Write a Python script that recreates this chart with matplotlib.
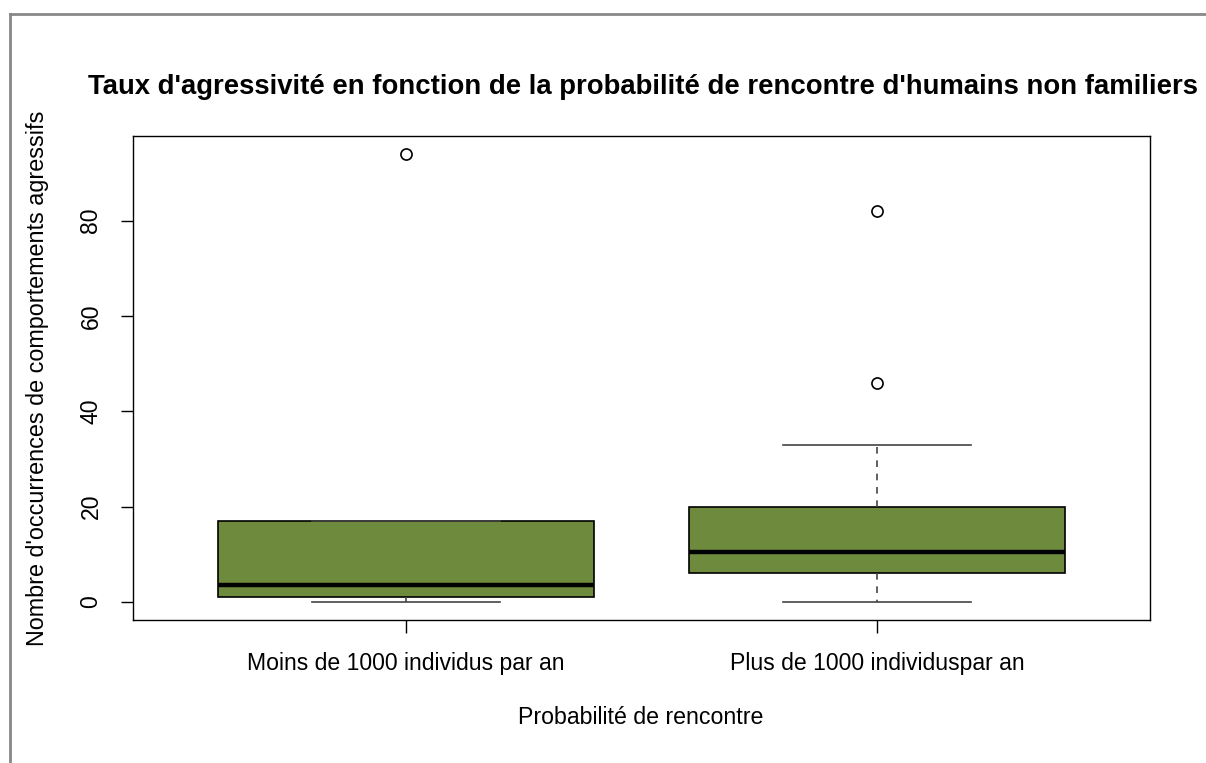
import matplotlib
matplotlib.use('Agg')
import matplotlib.pyplot as plt
from matplotlib.lines import Line2D

plt.rcParams['font.family'] = ['Liberation Sans', 'DejaVu Sans']

# valeurs
groupes = ['Moins de 1000 individus par an', 'Plus de 1000 individuspar an']
bas = [0, 0]
q1 = [1, 6]
mediane = [3.5, 10.5]
q3 = [17, 20]
haut = [17, 33]
extremes = [[94], [46, 82]]
yticks = [0, 20, 40, 60, 80]

stats = []
for i in range(len(groupes)):
    stats.append(dict(whislo=bas[i], q1=q1[i], med=mediane[i], q3=q3[i],
                      whishi=haut[i], fliers=extremes[i], label=groupes[i]))

W, H = 1206, 763
fig = plt.figure(figsize=(W / 100, H / 100), dpi=100)
ax = fig.add_axes([133 / W, 1 - 620 / H, 1017 / W, 484 / H])

ax.bxp(stats, positions=[1, 2], widths=0.8, capwidths=0.4, patch_artist=True,
       boxprops=dict(facecolor='#6E8B3D', edgecolor='black', linewidth=1.2),
       medianprops=dict(color='black', linewidth=3.2),
       whiskerprops=dict(color='#444444', linewidth=1.2, linestyle=(0, (4, 4))),
       capprops=dict(color='#444444', linewidth=1.2),
       flierprops=dict(marker='o', markerfacecolor='none', markeredgecolor='black',
                       markersize=8, markeredgewidth=1.2))

ax.set_xlim(0.42, 2.58)
ax.set_ylim(-3.76, 97.76)
ax.set_yticks(yticks)
ax.set_yticklabels([str(v) for v in yticks], rotation=90, va='center')
ax.tick_params(axis='both', direction='out', length=9, width=1, labelsize=16.6)
ax.tick_params(axis='x', pad=14)
ax.tick_params(axis='y', pad=13)
for s in ax.spines.values():
    s.set_linewidth(1)

fig.text(643 / W, 1 - 87 / H,
         "Taux d'agressivité en fonction de la probabilité de rencontre d'humains non familiers",
         ha='center', va='center', fontsize=19.8, fontweight='bold')
fig.text(38 / W, 1 - 378 / H, "Nombre d'occurrences de comportements agressifs",
         ha='center', va='center', rotation=90, fontsize=16.8)
fig.text(641 / W, 1 - 718 / H, "Probabilité de rencontre",
         ha='center', va='center', fontsize=16.7)

# cadre de la capture
fig.add_artist(Line2D([10 / W, 1], [1 - 14 / H, 1 - 14 / H], transform=fig.transFigure,
                      color='#888888', lw=2))
fig.add_artist(Line2D([10 / W, 10 / W], [0, 1 - 14 / H], transform=fig.transFigure,
                      color='#888888', lw=2))

fig.savefig('out.png', dpi=100)
